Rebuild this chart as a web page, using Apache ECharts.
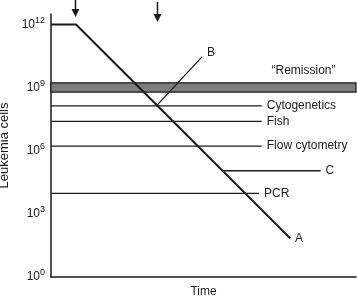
<!DOCTYPE html>
<html>
<head>
<meta charset="utf-8">
<script src="https://cdn.jsdelivr.net/npm/echarts@6/dist/echarts.min.js"></script>
<style>
  html, body { margin: 0; padding: 0; background: #fff; }
  #chart { width: 357px; height: 298px; }
</style>
</head>
<body>
<div id="chart"></div>
<script>
// time is in arbitrary units (0-100), cells as log10 exponent
const yTicks = [0, 3, 6, 9, 12];
const lineA = [[0, 12], [8.2, 12], [78.4, 1.84]];
const lineB = [[34.8, 8.17], [49.5, 10.46]];
const lineC = [[56.4, 5.05], [88.4, 5.05]];
const remission = [8.79, 9.23];
const assayNames = ['Cytogenetics', 'Fish', 'Flow cytometry', 'PCR'];
const assayLevels = [8.13, 7.4, 6.22, 3.97];
const assayEnds = [69.1, 69.1, 69.1, 68.2];
const arrowTimes = [7.9, 34.8];

const chart = echarts.init(document.getElementById('chart'));
const font = 'Liberation Sans, Arial, Helvetica, sans-serif';
const ink = '#1a1a1a';

const lineSeries = (name, data, width, label, offset) => ({
  name: name,
  type: 'line',
  data: data,
  symbol: 'none',
  silent: true,
  clip: false,
  lineStyle: { color: ink, width: width },
  endLabel: {
    show: true,
    formatter: label,
    color: ink,
    fontFamily: font,
    fontSize: 12,
    distance: 5,
    offset: offset || [0, 0]
  }
});

const series = [
  {
    name: 'remission',
    type: 'line',
    data: [],
    markArea: {
      silent: true,
      itemStyle: { color: '#7d7d7d', borderColor: ink, borderWidth: 1.2 },
      label: {
        show: true,
        position: 'top',
        offset: [100, -1],
        formatter: '\u201cRemission\u201d',
        color: ink,
        fontFamily: font,
        fontSize: 12
      },
      data: [[{ xAxis: 0, yAxis: remission[0] }, { xAxis: 100, yAxis: remission[1] }]]
    }
  }
];
assayNames.forEach((n, i) => {
  series.push(lineSeries(n, [[0, assayLevels[i]], [assayEnds[i], assayLevels[i]]], 1.3, n));
});
series.push(lineSeries('A', lineA, 2, 'A'));
series.push(lineSeries('B', lineB, 1.3, 'B', [0, -4]));
series.push(lineSeries('C', lineC, 1.3, 'C'));

chart.setOption({
  animation: false,
  grid: { left: 51, right: 1, top: 14, bottom: 21, outerBoundsMode: 'none', containLabel: false },
  xAxis: {
    type: 'value',
    min: 0,
    max: 100,
    name: 'Time',
    nameLocation: 'middle',
    nameGap: 9,
    nameTextStyle: { color: ink, fontFamily: font, fontSize: 12 },
    axisLine: { lineStyle: { color: ink, width: 1.5 } },
    axisTick: { show: false },
    axisLabel: { show: false },
    splitLine: { show: false }
  },
  yAxis: {
    type: 'value',
    min: 0,
    max: 12.5,
    interval: 3,
    name: 'Leukemia cells',
    nameLocation: 'middle',
    nameGap: 36,
    nameTextStyle: { color: ink, fontFamily: font, fontSize: 13 },
    axisLine: { show: true, lineStyle: { color: ink, width: 1.5 } },
    axisTick: { show: false },
    splitLine: { show: false },
    axisLabel: {
      margin: 6,
      showMaxLabel: false,
      formatter: v => yTicks.includes(v) ? '{b|10}{s|' + v + '}' : '',
      rich: {
        b: { color: ink, fontFamily: font, fontSize: 12, lineHeight: 14 },
        s: { color: ink, fontFamily: font, fontSize: 9, lineHeight: 14, padding: [0, 0, 8, 0] }
      }
    }
  },
  series: series
});

// treatment arrows above the plot, placed at their times via the x scale
const arrowTips = [17, 22];
const arrowTops = [0, 2];
chart.setOption({
  graphic: arrowTimes.flatMap((t, i) => {
    const x = Math.round(chart.convertToPixel({ gridIndex: 0 }, [t, 0])[0]) + 0.5;
    const tip = arrowTips[i];
    return [
      { type: 'line', silent: true, shape: { x1: x, y1: arrowTops[i], x2: x, y2: tip - 7 },
        style: { stroke: ink, lineWidth: 1.5 } },
      { type: 'polygon', silent: true, shape: { points: [[x - 4, tip - 8], [x + 4, tip - 8], [x, tip]] },
        style: { fill: ink } }
    ];
  })
});
</script>
</body>
</html>
